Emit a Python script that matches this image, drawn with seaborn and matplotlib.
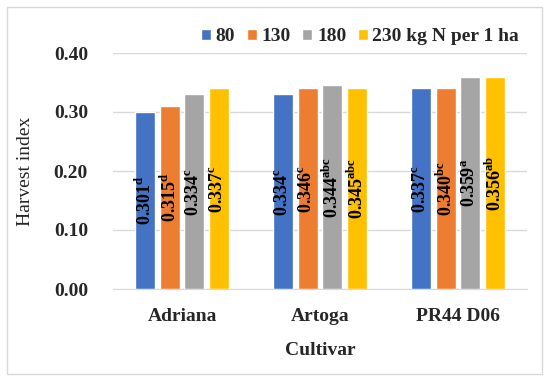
import matplotlib
matplotlib.use("Agg")
import matplotlib.pyplot as plt
import seaborn as sns
import pandas as pd
from matplotlib.patches import Rectangle

cultivars = ["Adriana", "Artoga", "PR44 D06"]
doses = ["80", "130", "180", "230 kg N per 1 ha"]
heights = {
    "80": [0.30, 0.33, 0.34],
    "130": [0.31, 0.34, 0.34],
    "180": [0.33, 0.345, 0.36],
    "230 kg N per 1 ha": [0.34, 0.34, 0.36],
}
label_values = {
    "80": ["0.301", "0.334", "0.337"],
    "130": ["0.315", "0.346", "0.340"],
    "180": ["0.334", "0.344", "0.359"],
    "230 kg N per 1 ha": ["0.337", "0.345", "0.356"],
}
label_letters = {
    "80": ["d", "c", "c"],
    "130": ["d", "c", "bc"],
    "180": ["c", "abc", "a"],
    "230 kg N per 1 ha": ["c", "abc", "ab"],
}
yticks = [0.00, 0.10, 0.20, 0.30, 0.40]
colors = ["#4472C4", "#ED7D31", "#A5A5A5", "#FFC000"]

sns.set_style("white")
plt.rcParams["font.family"] = ["Liberation Serif", "DejaVu Serif"]
plt.rcParams["font.weight"] = "bold"
plt.rcParams["mathtext.fontset"] = "custom"
plt.rcParams["mathtext.rm"] = "Liberation Serif:bold"
plt.rcParams["mathtext.bf"] = "Liberation Serif:bold"

rows = []
for d in doses:
    for c, h in zip(cultivars, heights[d]):
        rows.append({"Cultivar": c, "Dose": d, "Harvest index": h})
df = pd.DataFrame(rows)

fig = plt.figure(figsize=(5.5, 3.82), dpi=100)
ax = fig.add_axes([113 / 550, 1 - 289 / 382, (527 - 113) / 550, (289 - 53) / 382])

sns.barplot(data=df, x="Cultivar", y="Harvest index", hue="Dose",
            order=cultivars, hue_order=doses, palette=colors,
            width=0.71, gap=0.2, saturation=1, ax=ax, errorbar=None)

ax.set_ylim(0, 0.40)
ax.set_yticks(yticks)
ax.set_yticklabels([f"{t:.2f}" for t in yticks], fontsize=14, fontweight="bold")
ax.tick_params(axis="y", length=0, pad=18)
ax.tick_params(axis="x", length=0, pad=14)
for lab in ax.get_xticklabels():
    lab.set_fontsize(14)
    lab.set_fontweight("bold")
ax.yaxis.grid(True, color="#D9D9D9", linewidth=1)
ax.set_axisbelow(True)
for s in ["top", "right", "left"]:
    ax.spines[s].set_visible(False)
ax.spines["bottom"].set_color("#D9D9D9")
ax.set_xlim(-0.5, 2.5)

ax.set_ylabel("Harvest index", fontsize=14, fontweight="normal", labelpad=14)
ax.set_xlabel("Cultivar", fontsize=14, fontweight="bold", labelpad=12)

# value labels
for container, d in zip(ax.containers, doses):
    for bar, v, let in zip(container, label_values[d], label_letters[d]):
        x = bar.get_x() + bar.get_width() / 2
        y = bar.get_height() / 2
        ax.text(x, y, v + r"$^{\mathrm{" + let + "}}$", rotation=90,
                ha="center", va="center", fontsize=13, fontweight="bold",
                color="black")

leg = ax.legend(loc="lower right", bbox_to_anchor=(0.0, 1.0, 1.0, 0.1),
                ncol=4, frameon=False, handlelength=0.5,
                handleheight=0.5, handletextpad=0.25, columnspacing=0.6,
                borderaxespad=0.0, prop={"size": 14, "weight": "bold"})

fig.patches.append(Rectangle((7 / 550, 1 - 374 / 382), 535 / 550, 367 / 382,
                             transform=fig.transFigure, fill=False,
                             edgecolor="#D9D9D9", linewidth=1))

fig.savefig("out.png", dpi=100)
